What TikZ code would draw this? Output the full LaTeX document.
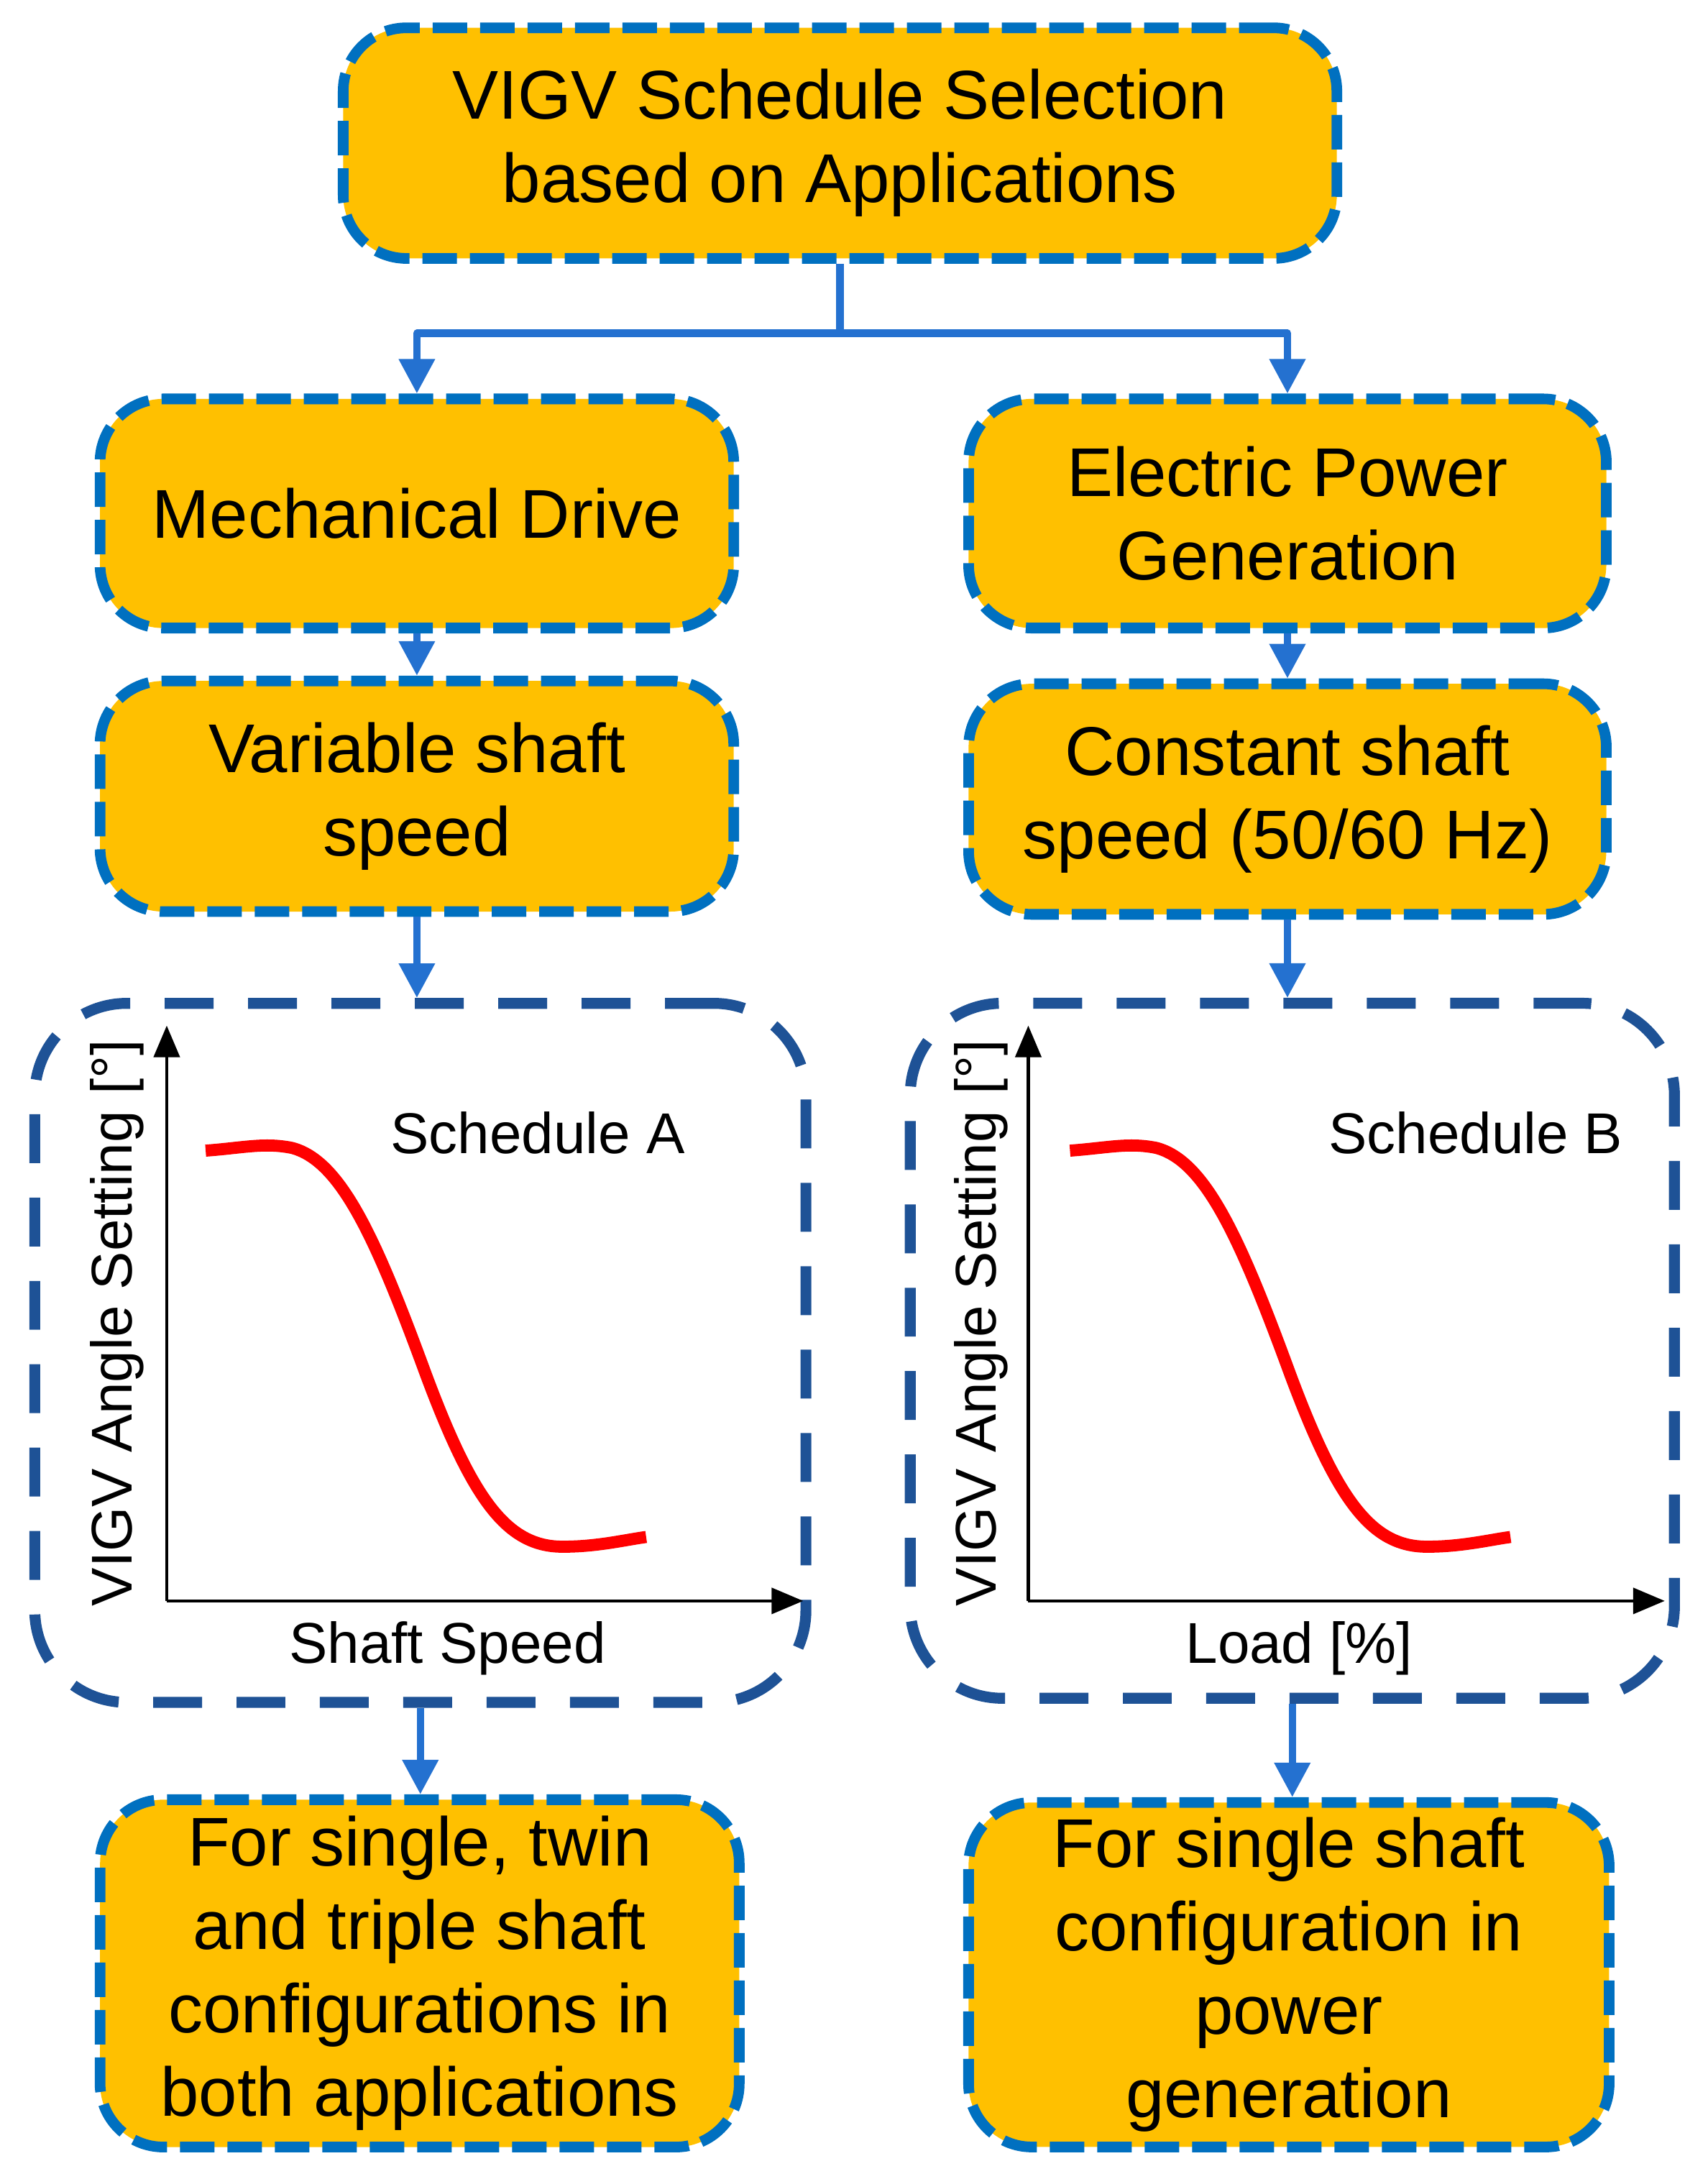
\documentclass[tikz,border=0pt]{standalone}
\usepackage{fontspec}
\setmainfont{Liberation Sans}
\usetikzlibrary{arrows.meta}
\definecolor{boxfill}{RGB}{255,192,0}
\definecolor{boxline}{RGB}{0,112,192}
\definecolor{flowline}{RGB}{36,113,208}
\definecolor{frameline}{RGB}{30,82,150}
\begin{document}
\begin{tikzpicture}[x=0.4833pt,y=-0.4833pt,line join=round,
	appbox/.style={rectangle,rounded corners=22pt,fill=boxfill,draw=boxline,line width=3.7pt,dash pattern=on 12pt off 4.5pt,align=center,inner sep=0pt,font=\fontsize{24}{29}\selectfont},
	chartframe/.style={rectangle,rounded corners=32pt,draw=frameline,line width=3.8pt,dash pattern=on 17pt off 12pt,fill=white},
	flow/.style={draw=flowline,line width=2.6pt,-{Triangle[width=12pt,length=12pt]}},
	axis/.style={line width=1.1pt,-{Triangle[width=9pt,length=11pt]}},
	lbl/.style={inner sep=0pt,font=\fontsize{20}{24}\selectfont},
	sched/.style={red,line width=4.2pt}]
	\useasboundingbox (0,0) rectangle (1229,1568);
	\node[appbox,minimum width=345.6pt,minimum height=80.2pt] (sel) at (604.5,103) {VIGV Schedule Selection\\based on Applications};
	\node[appbox,minimum width=220.4pt,minimum height=79.7pt] (mech) at (300,369.5) {Mechanical Drive};
	\node[appbox,minimum width=221.8pt,minimum height=79.7pt] (elec) at (926.5,369.5) {Electric Power\\Generation};
	\node[appbox,minimum width=220.4pt,minimum height=80.2pt] (varspeed) at (300,573) {Variable shaft\\speed};
	\node[appbox,minimum width=221.8pt,minimum height=80.2pt] (constspeed) at (926.5,575) {Constant shaft\\speed (50/60 Hz)};
	\node[chartframe,minimum width=268.2pt,minimum height=243.1pt] (frameA) at (302.5,973.5) {};
	\node[chartframe,minimum width=265.8pt,minimum height=241.7pt] (frameB) at (930,972) {};
	\node[appbox,minimum width=222.3pt,minimum height=120.8pt] (multicfg) at (302,1420) {For single, twin\\and triple shaft\\configurations in\\both applications};
	\node[appbox,minimum width=222.8pt,minimum height=119.8pt] (singlecfg) at (927.5,1421) {For single shaft\\configuration in\\power\\generation};
	\draw[flow] (sel.south) -- ++(0,50) -| (mech.north);
	\draw[flow] (sel.south) -- ++(0,50) -| (elec.north);
	\draw[flow] (mech.south) -- (varspeed.north);
	\draw[flow] (elec.south) -- (constspeed.north);
	\draw[flow] (varspeed.south) -- (varspeed.south |- frameA.north);
	\draw[flow] (constspeed.south) -- (constspeed.south |- frameB.north);
	\draw[flow] (frameA.south) -- (frameA.south |- multicfg.north);
	\draw[flow] (frameB.south) -- (frameB.south |- singlecfg.north);
	\coordinate (originA) at (120,1152);
	\coordinate (originB) at (740,1152);
	\draw[axis] (originA) -- (120,738);
	\draw[axis] (originA) -- (578,1152);
	\draw[axis] (originB) -- (740,738);
	\draw[axis] (originB) -- (1198,1152);
	\node[lbl,rotate=90] (ylabA) at (84,952) {VIGV Angle Setting [°]};
	\node[lbl,rotate=90] (ylabB) at (706,952) {VIGV Angle Setting [°]};
	\node[lbl] (xlabA) at (322,1186) {Shaft Speed};
	\node[lbl] (xlabB) at (935,1186) {Load [\%]};
	\node[lbl] (schedA) at (387,815) {Schedule A};
	\node[lbl] (schedB) at (1062,815) {Schedule B};
	\foreach \dx in {0,622}
	\draw[sched,xshift=\dx*0.4833pt] (148,828) .. controls (175,826) and (190,822) .. (210,826) .. controls (245,835) and (270,890) .. (305,985) .. controls (340,1080) and (365,1113) .. (405,1113) .. controls (430,1113) and (450,1108) .. (465,1106);
\end{tikzpicture}
\end{document}
